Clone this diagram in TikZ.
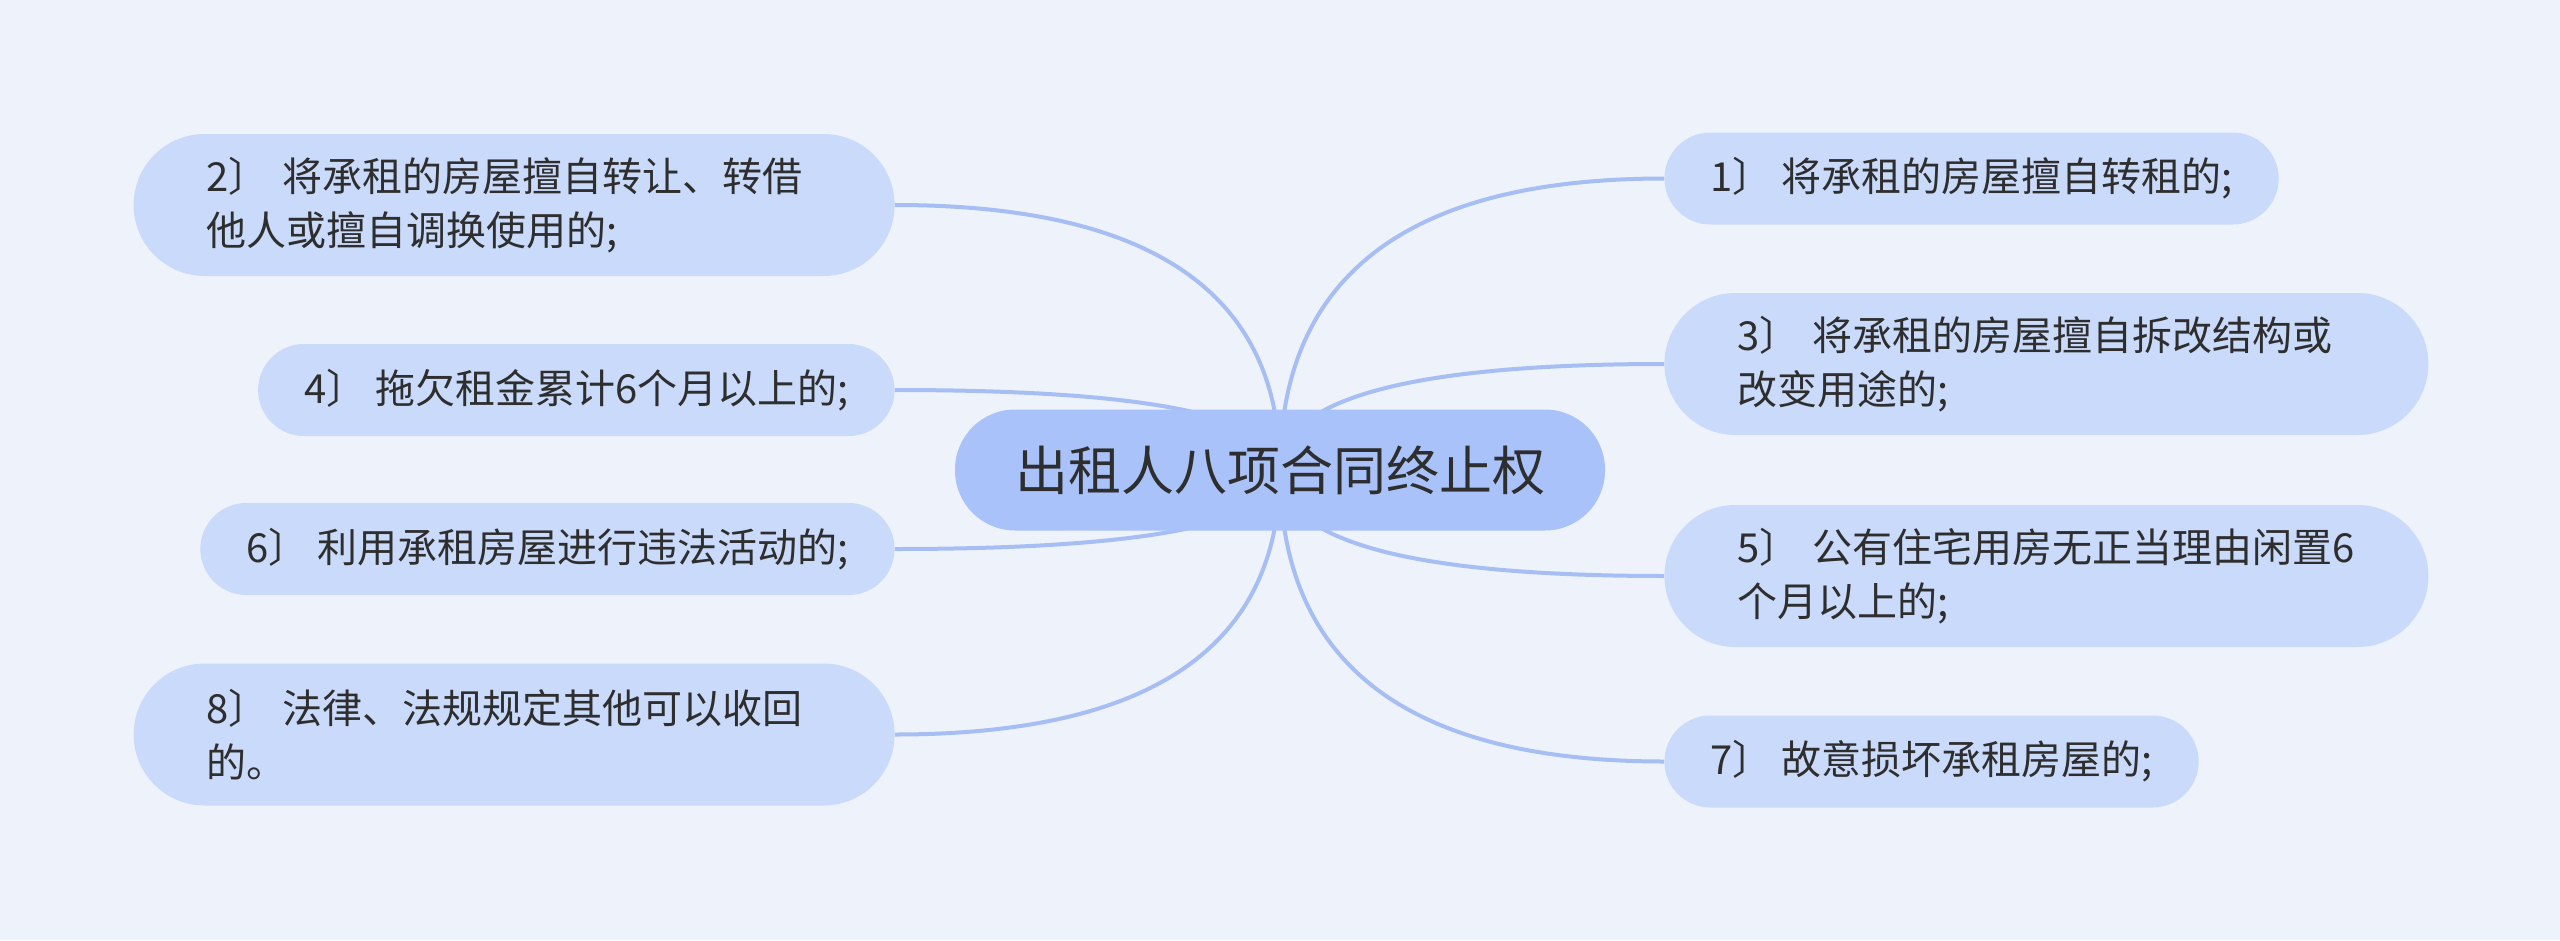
\documentclass[tikz,border=0pt]{standalone}
\usepackage{fontspec}
\setmainfont{Noto Sans CJK SC}
\usetikzlibrary{positioning}
\usetikzlibrary{calc}
\usepackage{xcolor}

\definecolor{bgcol}{HTML}{EEF2FA}
\definecolor{hubcol}{HTML}{A9C2FA}
\definecolor{leafcol}{HTML}{CADAFA}
\definecolor{linkcol}{HTML}{A7BEF4}
\definecolor{txtcol}{HTML}{2E2E2E}

\pgfdeclarelayer{back}
\pgfdeclarelayer{links}
\pgfsetlayers{back,links,main}

\tikzset{
	hub/.style={fill=hubcol, text=txtcol, font=\fontsize{53}{64}\selectfont,
		inner xsep=60pt, inner ysep=0pt, minimum height=121pt, rounded corners=60pt},
	leaf/.style={fill=leafcol, text=txtcol, font=\fontsize{40}{54}\selectfont, align=left,
		inner xsep=46pt, inner ysep=0pt, minimum height=92pt, rounded corners=46pt},
	twoline/.style={inner xsep=73pt, minimum height=142pt, rounded corners=71pt, text width=#1},
	branch/.style={draw=linkcol, line width=4pt,
		to path={.. controls ($(\tikztostart)!0.667!(\tikztostart |- \tikztotarget)$)
			and ($(\tikztotarget)!0.667!(\tikztostart |- \tikztotarget)$) .. (\tikztotarget)}}
}

\begin{document}
\begin{tikzpicture}[x=1pt, y=-1pt, node distance=60pt]

\begin{pgfonlayer}{back}
\fill[bgcol] (0,0) rectangle (2560,940);
\end{pgfonlayer}
\useasboundingbox (0,0) rectangle (2560,940);

\node[hub](root) at (1280,470){出租人八项合同终止权};

% left side
\node[leaf, twoline=615pt, left=of root, yshift=265pt](n2){2〕 将承租的房屋擅自转让、转借\\他人或擅自调换使用的;};
\node[leaf, left=of root, yshift=80pt](n4){4〕 拖欠租金累计6个月以上的;};
\node[leaf, left=of root, yshift=-79pt](n6){6〕 利用承租房屋进行违法活动的;};
\node[leaf, twoline=615pt, left=of root, yshift=-264.5pt](n8){8〕 法律、法规规定其他可以收回\\的。};

% right side
\node[leaf, right=59pt of root, yshift=291.5pt](n1){1〕 将承租的房屋擅自转租的;};
\node[leaf, twoline=618pt, right=59pt of root, yshift=106pt](n3){3〕 将承租的房屋擅自拆改结构或\\改变用途的;};
\node[leaf, twoline=618pt, right=59pt of root, yshift=-106pt](n5){5〕 公有住宅用房无正当理由闲置6\\个月以上的;};
\node[leaf, right=59pt of root, yshift=-291.5pt](n7){7〕 故意损坏承租房屋的;};

\begin{pgfonlayer}{links}
\draw[branch] (root.center) to (n2.east);
\draw[branch] (root.center) to (n4.east);
\draw[branch] (root.center) to (n6.east);
\draw[branch] (root.center) to (n8.east);
\draw[branch] (root.center) to (n1.west);
\draw[branch] (root.center) to (n3.west);
\draw[branch] (root.center) to (n5.west);
\draw[branch] (root.center) to (n7.west);
\end{pgfonlayer}
\end{tikzpicture}
\end{document}
